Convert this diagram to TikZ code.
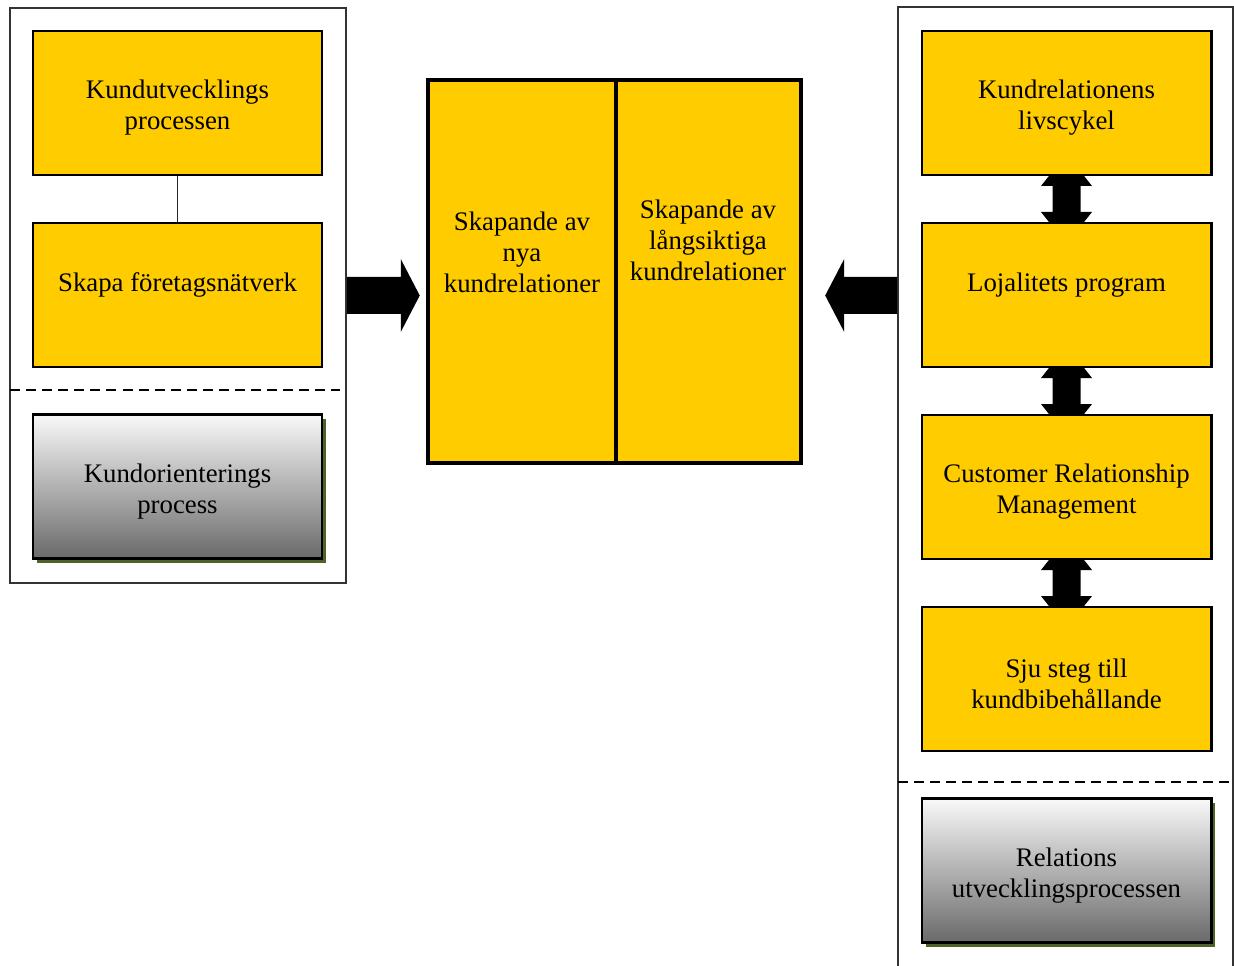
\documentclass[tikz,border=0pt]{standalone}
\usepackage{fontspec}
\setmainfont{Liberation Serif}
\usetikzlibrary{calc,shadows}
\definecolor{boxyellow}{HTML}{FFCC00}
\definecolor{shadowgreen}{HTML}{4F6228}
\definecolor{gtop}{HTML}{F8F8F8}
\definecolor{gbot}{HTML}{6A6A6A}
\definecolor{framegray}{HTML}{333333}
\begin{document}
\begin{tikzpicture}[x=0.448pt,y=-0.448pt,
  frame/.style={draw=framegray, line width=0.7pt, inner sep=0pt},
  txt/.style={align=center, font=\fontsize{12}{13.9}\selectfont, inner sep=0pt},
  ybox/.style={draw=black, line width=1.3pt, fill=boxyellow,
    minimum width=129.5pt, minimum height=64.5pt},
  gbox/.style={draw=black, line width=1.3pt, top color=gtop, bottom color=gbot,
    minimum width=129.5pt, minimum height=64.5pt,
    drop shadow={shadow xshift=1.8pt, shadow yshift=-1.8pt, fill=shadowgreen, opacity=1}},
  mbox/.style={draw=black, line width=1.8pt, fill=boxyellow, minimum height=171.6pt},
  sep/.style={dashed, dash pattern=on 4.5pt off 2.7pt, line width=0.7pt},
  link/.style={line width=0.5pt, draw=black!85}]
\useasboundingbox (0,0) rectangle (1234,965);
\clip (0,0) rectangle (1234,965);

% outer frames
\node[frame, minimum width=150.5pt, minimum height=257.6pt] (lframe) at (178,295.5) {};
\node[frame, minimum width=150.1pt, minimum height=445pt] (rframe) at (1065.5,503.5) {};

% separators
\coordinate (ls0) at (10,390);
\coordinate (ls1) at (340,390);
\draw[sep] (ls0) -- (ls1);
\coordinate (rs0) at (898,782);
\coordinate (rs1) at (1230,782);
\draw[sep] (rs0) -- (rs1);

% left column
\node[ybox] (kdev) at (177.5,103) {};
\node[txt] (kdevT) at (177.5,108) {Kundutvecklings\\processen};
\node[ybox] (net) at (177.5,295) {};
\node[txt] (netT) at (177.5,285) {Skapa företagsnätverk};
\draw[link] (kdev.south) -- (net.north);
\node[gbox] (korient) at (177.5,486.5) {};
\node[txt] (korientT) at (177.5,491.5) {Kundorienterings\\process};

% centre block
\node[mbox, minimum width=84.2pt] (midL) at (522,271.5) {};
\node[mbox, minimum width=82.9pt] (midR) at (708.5,271.5) {};
\node[txt] (midLT) at (522,252) {Skapande av\\nya\\kundrelationer};
\node[txt] (midRT) at (708,240) {Skapande av\\långsiktiga\\kundrelationer};

% block arrows into the centre
\fill ($(lframe.east)+(0,-18.5)$) -- ++(54,0) -- ++(0,-18) -- ++(19,36.5)
  -- ++(-19,36.5) -- ++(0,-18) -- ++(-54,0) -- cycle;
\fill ($(rframe.west |- lframe.east)+(0,-18.5)$) -- ++(-53,0) -- ++(0,-18) -- ++(-19,36.5)
  -- ++(19,36.5) -- ++(0,-18) -- ++(53,0) -- cycle;

% right column: box positions first, double arrows beneath the boxes
\coordinate (lifeC) at (1066.5,103);
\coordinate (loyalC) at (1066.5,295);
\coordinate (crmC) at (1066.5,487);
\coordinate (sevenC) at (1066.5,679);
\foreach \a/\b in {lifeC/loyalC, loyalC/crmC, crmC/sevenC}{
  \begin{scope}[shift={($(\a)!0.5!(\b)$)}]
    \fill (-16,-25) -- (16,-25) -- (25.5,-13) -- (14,-13) -- (14,13) -- (25.5,13)
      -- (16,25) -- (-16,25) -- (-25.5,13) -- (-14,13) -- (-14,-13) -- (-25.5,-13) -- cycle;
  \end{scope}
}
\node[ybox] (life) at (lifeC) {};
\node[txt] (lifeT) at (1066.5,108) {Kundrelationens\\livscykel};
\node[ybox] (loyal) at (loyalC) {};
\node[txt] (loyalT) at (1066.5,285) {Lojalitets program};
\node[ybox] (crm) at (crmC) {};
\node[txt] (crmT) at (1066.5,492) {Customer Relationship\\Management};
\node[ybox] (seven) at (sevenC) {};
\node[txt] (sevenT) at (1066.5,684) {Sju steg till\\kundbibehållande};

\node[gbox] (relut) at (1066.5,870.5) {};
\node[txt] (relutT) at (1066.5,875.5) {Relations\\utvecklingsprocessen};
\end{tikzpicture}
\end{document}
